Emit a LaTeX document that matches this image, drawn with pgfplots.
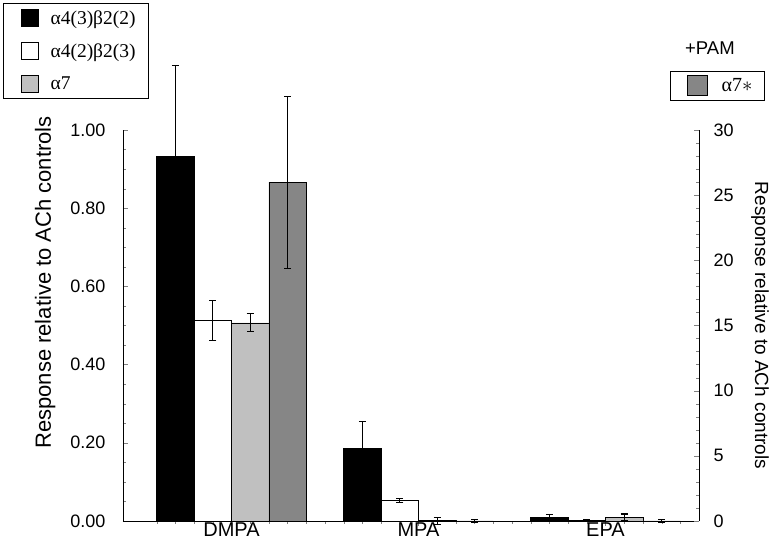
\documentclass[border=0pt]{standalone}
\usepackage{pgfplots}
\pgfplotsset{compat=1.18}
\usepackage{fontspec}
\setmainfont{Liberation Sans}
\newfontfamily\seriffont{Liberation Serif}
\definecolor{lgray}{RGB}{192,192,192}
\definecolor{dgray}{RGB}{134,134,134}

\pgfplotsset{
  common/.style={
    scale only axis, width=576pt, height=391pt,
    at={(0,0)}, anchor=south west,
    xmin=0, xmax=15.4, ymin=0,
    clip=false,
    ybar, bar width=1, bar shift=0,
    tick label style={font=\fontsize{18}{20}\selectfont},
    /pgf/number format/assume math mode=true,
    tick align=inside, major tick length=5pt, minor tick length=3pt,
    error bars/y dir=both, error bars/y explicit,
    error bars/error bar style={black, line width=1.1pt},
    error bars/error mark options={rotate=90, mark size=3.5pt, black, line width=1.1pt},
    legend image code/.code={\draw[#1, draw=black] (0pt,-8.5pt) rectangle (17pt,8.5pt);},
  },
}

\begin{document}
\begin{tikzpicture}
\useasboundingbox (-123pt,-23pt) rectangle (649pt,521pt);

% left axis: three receptor types
\begin{axis}[common,
  ymax=1,
  axis x line*=bottom, axis y line*=left,
  ytick={0,0.2,0.4,0.6,0.8,1.0},
  minor y tick num=3,
  yticklabel style={/pgf/number format/fixed, /pgf/number format/fixed zerofill, /pgf/number format/precision=2, xshift=-14pt},
  xtick={2.9,7.9,12.9},
  xticklabels={DMPA,MPA,EPA},
  minor xtick={0.9,1.4,1.9,2.4,3.4,3.9,4.4,4.9,5.4,5.9,6.4,6.9,7.4,8.4,8.9,9.4,9.9,10.4,10.9,11.4,11.9,12.4,13.4,13.9,14.4,14.9},
  x tick style={/pgfplots/tick align=outside},
  xticklabel style={font=\fontsize{20}{22}\selectfont, yshift=2pt},
  ylabel={Response relative to ACh controls},
  ylabel style={at={(rel axis cs:-0.135,0.61)}, anchor=center, font=\fontsize{22}{24}\selectfont},
  legend style={at={(rel axis cs:-0.208,1.325)}, anchor=north west,
    draw=black, line width=0.9pt, font=\seriffont\fontsize{19.5}{20}\selectfont,
    row sep=14pt, inner xsep=17pt, inner ysep=5pt, cells={anchor=west},
    /tikz/every odd column/.style={column sep=10pt}},
  legend cell align=left,
]
\addplot[fill=black, draw=black] coordinates {
  (1.4,0.932) +- (0,0.232)
  (6.4,0.186) +- (0,0.068)
  (11.4,0.010) +- (0,0.007)
};
\addlegendentry{α4(3)β2(2)\kern-6pt}
\addplot[fill=white, draw=black] coordinates {
  (2.4,0.513) +- (0,0.051)
  (7.4,0.052) +- (0,0.005)
  (12.4,0.002) +- (0,0.001)
};
\addlegendentry{α4(2)β2(3)\kern-6pt}
\addplot[fill=lgray, draw=black] coordinates {
  (3.4,0.507) +- (0,0.023)
  (8.4,0.001) +- (0,0.009)
  (13.4,0.010) +- (0,0.008)
};
\addlegendentry{α7}
\end{axis}

% right axis: alpha7 with PAM
\begin{axis}[common,
  ymax=30,
  axis x line=none, axis y line*=right,
  ytick={0,5,10,15,20,25,30},
  minor y tick num=4,
  yticklabel style={xshift=11pt},
  ylabel={Response relative to ACh controls},
  ylabel style={at={(rel axis cs:1.106,0.5)}, anchor=center, rotate=180, font=\fontsize{19}{21}\selectfont},
  legend style={at={(rel axis cs:0.95,1.151)}, anchor=north west,
    draw=black, line width=0.9pt, font=\seriffont\fontsize{20}{20}\selectfont,
    inner xsep=16pt, inner ysep=4pt,
    /tikz/every odd column/.style={column sep=12pt}},
  legend image code/.code={\draw[#1, draw=black] (0pt,-10pt) rectangle (20pt,10pt);},
]
\addplot[fill=dgray, draw=black] coordinates {
  (4.4,26.0) +- (0,6.6)
  (9.4,0.0) +- (0,0.1)
  (14.4,0.0) +- (0,0.1)
};
\addlegendentry{α7$\ast$\kern-6pt}
\node[font=\fontsize{18.5}{20}\selectfont] at (rel axis cs:1.019,1.21) {+PAM};
\end{axis}
\end{tikzpicture}
\end{document}
